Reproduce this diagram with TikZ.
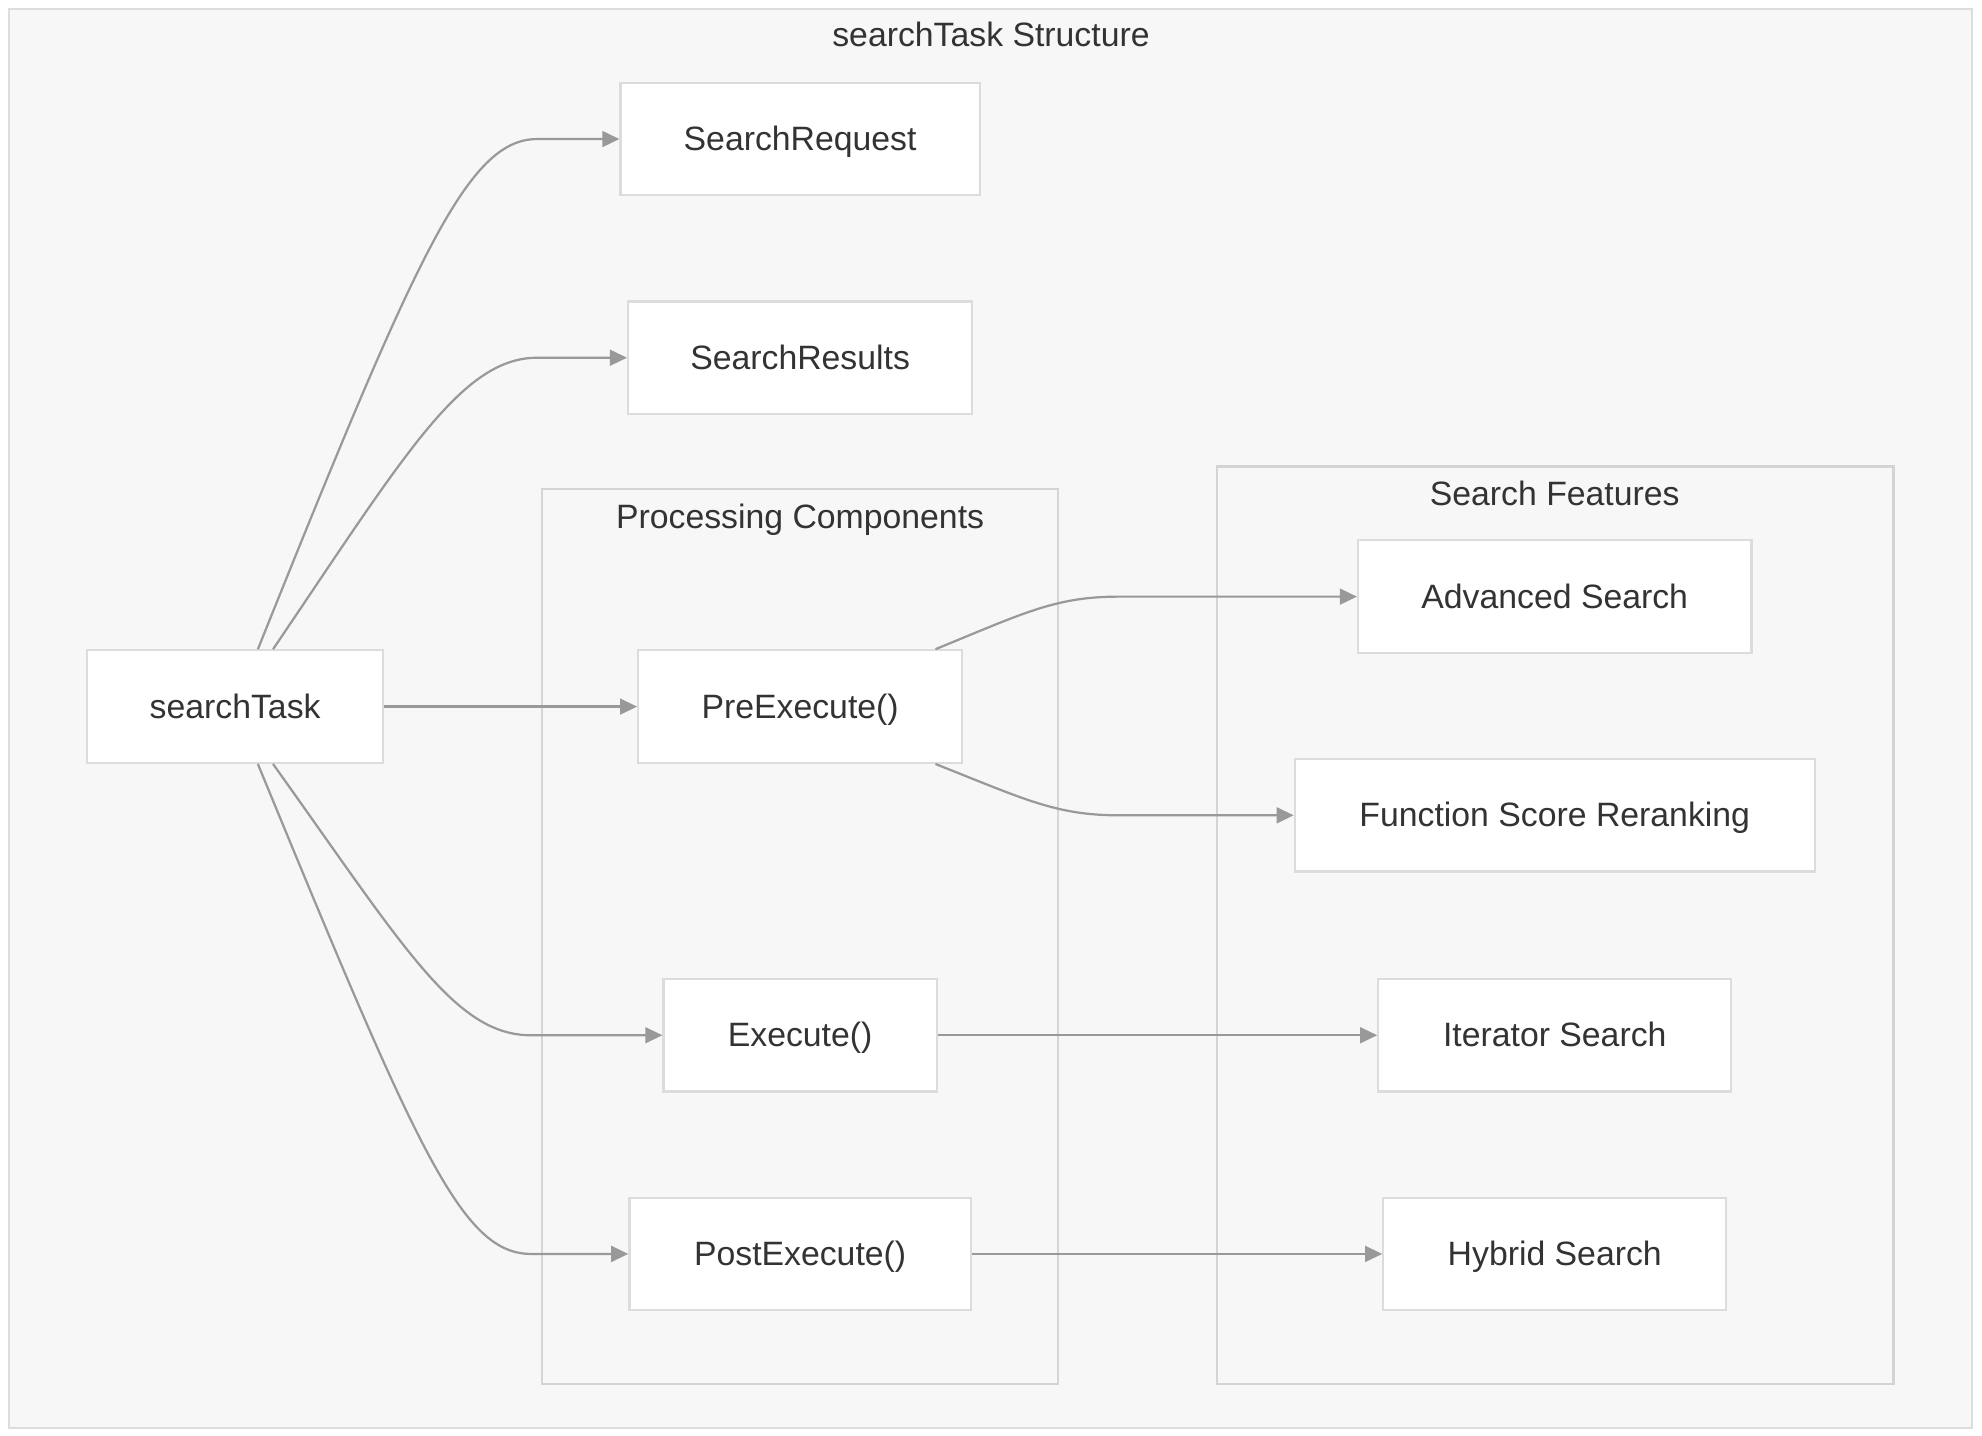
\documentclass[tikz,border=0pt]{standalone}
\usepackage{fontspec}
\setmainfont{Liberation Sans}
\usetikzlibrary{arrows.meta}
\definecolor{pagebg}{HTML}{F7F7F7}
\definecolor{frameline}{HTML}{DDDDDD}
\definecolor{groupline}{HTML}{D4D4D4}
\definecolor{boxline}{HTML}{DCDCDC}
\definecolor{edgeline}{HTML}{999999}
\definecolor{labeltext}{HTML}{333333}

\def\outerframe{(7,7) rectangle (1560,1130)}
\def\procgroup{(429,387) rectangle (837,1095)}
\def\featgroup{(963,369) rectangle (1498,1095)}

\begin{document}
\begin{tikzpicture}[x=0.01cm,y=-0.01cm,
  font=\fontsize{7.6}{9}\selectfont, text=labeltext,
  every node/.style={text height=0.72em, text depth=0.2em},
  box/.style={draw=boxline, fill=white, line width=0.5pt, minimum height=0.89cm, inner sep=0pt},
  edge/.style={draw=edgeline, line width=0.5pt, -{Triangle[length=1.35mm,width=1.25mm]}}]
  \useasboundingbox (0,0) rectangle (1568,1136);

  \draw[frameline, fill=pagebg, line width=0.5pt] \outerframe;
  \draw[groupline, line width=0.5pt] \procgroup;
  \draw[groupline, line width=0.5pt] \featgroup;

  \node (title) at (784,28) {searchTask Structure};
  \node (proclabel) at (633,409) {Processing Components};
  \node (featlabel) at (1230,391) {Search Features};

  \node[box, minimum width=2.34cm] (task) at (186,559) {searchTask};
  \node[box, minimum width=2.84cm] (req) at (633,110) {SearchRequest};
  \node[box, minimum width=2.72cm] (res) at (633,283) {SearchResults};
  \node[box, minimum width=2.56cm] (pre) at (633,559) {PreExecute()};
  \node[box, minimum width=2.16cm] (exec) at (633,819) {Execute()};
  \node[box, minimum width=2.70cm] (post) at (633,992) {PostExecute()};
  \node[box, minimum width=3.11cm] (adv) at (1230,472) {Advanced Search};
  \node[box, minimum width=4.11cm] (rerank) at (1230,645) {Function Score Reranking};
  \node[box, minimum width=2.79cm] (iter) at (1230,819) {Iterator Search};
  \node[box, minimum width=2.71cm] (hybrid) at (1230,992) {Hybrid Search};

  \draw[edge] ([xshift=1.8mm]task.north) .. controls (330,200) and (370,110) .. (425,110) -- (req.west);
  \draw[edge] ([xshift=3.0mm]task.north) .. controls (320,360) and (365,283) .. (425,283) -- (res.west);
  \draw[edge] (task.east) -- (pre.west);
  \draw[edge] ([xshift=3.0mm]task.south) .. controls (320,750) and (360,819) .. (420,819) -- (exec.west);
  \draw[edge] ([xshift=1.8mm]task.south) .. controls (330,910) and (365,992) .. (420,992) -- (post.west);

  \draw[edge] ([xshift=1.07cm]pre.north) .. controls (810,485) and (835,472) .. (885,472) -- (adv.west);
  \draw[edge] ([xshift=1.07cm]pre.south) .. controls (810,632) and (835,645) .. (885,645) -- (rerank.west);
  \draw[edge] (exec.east) -- (iter.west);
  \draw[edge] (post.east) -- (hybrid.west);
\end{tikzpicture}
\end{document}
